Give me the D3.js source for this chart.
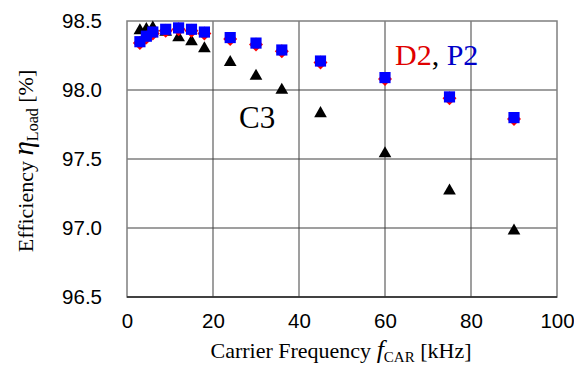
<!DOCTYPE html>
<html>
<head>
<meta charset="utf-8">
<script src="https://cdn.jsdelivr.net/npm/d3@7"></script>
<style>
  body { margin: 0; background: #fff; }
  svg { display: block; }
</style>
</head>
<body>
<svg id="graph" width="574" height="367"></svg>
<script>
// carrier frequency [kHz]
const freqs = [3, 4.5, 6, 9, 12, 15, 18, 24, 30, 36, 45, 60, 75, 90];
// efficiency [%]
const effD2 = [98.34, 98.38, 98.41, 98.43, 98.44, 98.43, 98.41, 98.37, 98.33, 98.28, 98.20, 98.08, 97.94, 97.79];
const effP2 = [98.35, 98.39, 98.42, 98.44, 98.45, 98.44, 98.42, 98.38, 98.34, 98.29, 98.21, 98.09, 97.95, 97.80];
const effC3 = [98.43, 98.44, 98.45, 98.42, 98.38, 98.35, 98.30, 98.20, 98.10, 98.00, 97.83, 97.54, 97.27, 96.98];
const xTicks = [0, 20, 40, 60, 80, 100];
const yTicks = [96.5, 97.0, 97.5, 98.0, 98.5];

let svg = d3.select("#graph");

let pxL = 127, pxR = 557, pxT = 21, pxB = 297;

let scX = d3.scaleLinear().domain([0, 100]).range([pxL, pxR]);
let scY = d3.scaleLinear().domain([96.5, 98.5]).range([pxB, pxT]);

// grid
let grid = svg.append("g");
grid.selectAll("line.v")
    .data(xTicks.slice(1, -1))
    .enter()
    .append("line")
    .attr("x1", (d) => scX(d)).attr("x2", (d) => scX(d))
    .attr("y1", pxT).attr("y2", pxB)
    .attr("stroke", "#7f7f7f").attr("stroke-width", 1.5);
grid.selectAll("line.h")
    .data(yTicks.slice(1, -1))
    .enter()
    .append("line")
    .attr("x1", pxL).attr("x2", pxR)
    .attr("y1", (d) => scY(d)).attr("y2", (d) => scY(d))
    .attr("stroke", "#404040").attr("stroke-width", 1.2);

svg.append("rect")
    .attr("x", pxL).attr("y", pxT)
    .attr("width", pxR - pxL).attr("height", pxB - pxT)
    .attr("fill", "none").attr("stroke", "#7f7f7f").attr("stroke-width", 1.5);
svg.append("line")
    .attr("x1", pxL).attr("x2", pxR).attr("y1", pxB).attr("y2", pxB)
    .attr("stroke", "#222").attr("stroke-width", 1.5);

// axes
let axX = d3.axisBottom(scX).tickValues(xTicks).tickSize(0).tickFormat(d3.format("d"));
let gx = svg.append("g").attr("transform", "translate(0," + pxB + ")").call(axX);
let axY = d3.axisLeft(scY).tickValues(yTicks).tickSize(0).tickPadding(25).tickFormat(d3.format(".1f"));
let gy = svg.append("g").attr("transform", "translate(" + pxL + ",0)").call(axY);
[gx, gy].forEach((g) => {
    g.select(".domain").remove();
    g.selectAll("text")
        .attr("font-family", "Liberation Sans, Arial, sans-serif")
        .attr("font-size", 20.5)
        .attr("fill", "#000");
});
gx.selectAll("text").attr("dy", "0.71em").attr("y", 16);

// series
let pts = function (vals) {
    return freqs.map((f, i) => ({ f: f, v: vals[i] }));
};

let sym = function (type, size) {
    return d3.symbol().type(type).size(size)();
};

let gC3 = svg.append("g");
gC3.selectAll("path")
    .data(pts(effC3))
    .enter()
    .append("path")
    .attr("d", sym(d3.symbolTriangle, 70))
    .attr("transform", (d) => "translate(" + scX(d.f) + "," + scY(d.v) + ")")
    .attr("fill", "#000");

let gD2 = svg.append("g");
gD2.selectAll("path")
    .data(pts(effD2))
    .enter()
    .append("path")
    .attr("d", sym(d3.symbolSquare, 98))
    .attr("transform", (d) => "translate(" + scX(d.f) + "," + scY(d.v) + ") rotate(45)")
    .attr("fill", "#ff0000");

let gP2 = svg.append("g");
gP2.selectAll("path")
    .data(pts(effP2))
    .enter()
    .append("path")
    .attr("d", sym(d3.symbolSquare, 125))
    .attr("transform", (d) => "translate(" + scX(d.f) + "," + scY(d.v) + ")")
    .attr("fill", "#0000ff");

// labels
let serif = "Liberation Serif, Times New Roman, serif";
let lbl = svg.append("text")
    .attr("x", 395).attr("y", 65)
    .attr("font-family", serif).attr("font-size", 30);
lbl.append("tspan").attr("fill", "#e00000").text("D2");
lbl.append("tspan").attr("fill", "#000").text(", ");
lbl.append("tspan").attr("fill", "#0000c8").text("P2");

svg.append("text")
    .attr("x", 239).attr("y", 128)
    .attr("font-family", serif).attr("font-size", 31)
    .attr("fill", "#000")
    .text("C3");

// axis titles
let xt = svg.append("text")
    .attr("x", 341).attr("y", 358)
    .attr("text-anchor", "middle")
    .attr("font-family", serif).attr("font-size", 22);
xt.append("tspan").text("Carrier Frequency ");
xt.append("tspan").attr("font-style", "italic").attr("font-size", 26).text("f");
xt.append("tspan").attr("font-size", 15).attr("dy", 4).text("CAR");
xt.append("tspan").attr("dy", -4).text(" [kHz]");

let yt = svg.append("text")
    .attr("transform", "translate(33,161) rotate(-90)")
    .attr("text-anchor", "middle")
    .attr("font-family", serif).attr("font-size", 22);
yt.append("tspan").text("Efficiency ");
yt.append("tspan").attr("font-style", "italic").attr("font-size", 29).text("η");
yt.append("tspan").attr("font-size", 16).attr("dy", 5).text("Load");
yt.append("tspan").attr("dy", -5).text(" [%]");
</script>
</body>
</html>
